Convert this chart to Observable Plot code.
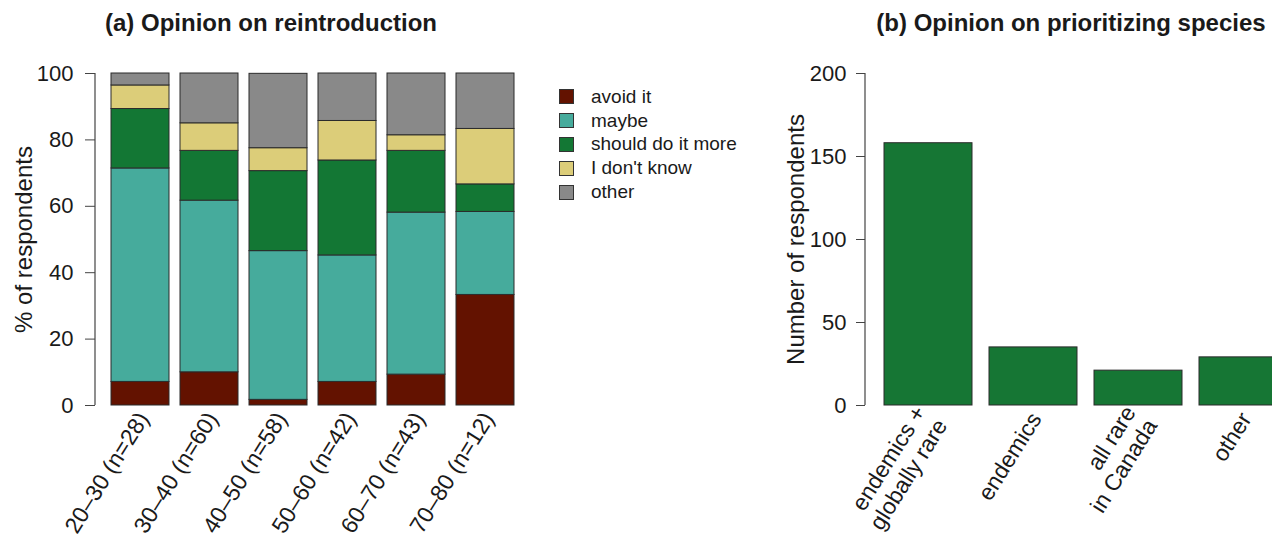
<!DOCTYPE html>
<html><head><meta charset="utf-8">
<script src="https://cdn.jsdelivr.net/npm/d3@7"></script>
<script src="https://cdn.jsdelivr.net/npm/@observablehq/plot@0.6"></script>
<style>
body{margin:0;background:#fff;}
#root{position:relative;width:1272px;height:542px;overflow:hidden;font-family:"Liberation Sans",Arial,sans-serif;color:#1a1a1a;background:#fff;}
.title{position:absolute;top:9px;font-weight:bold;font-size:24px;line-height:28px;white-space:nowrap;transform:translateX(-50%);z-index:2;}
#left,#right{position:absolute;top:0;}
#left{left:0;} #right{left:760px;width:556px;}
#root svg{max-width:none !important;display:block;}
#legend{position:absolute;left:559px;top:85px;font-size:19px;z-index:2;}
.li{display:flex;align-items:center;height:23.8px;}
.sw{width:13px;height:13px;border:1px solid #333;margin-right:17px;}
svg text{fill:#1a1a1a;}
</style></head>
<body><div id="root">
<div id="left"></div><div id="right"></div><div id="legend"></div>
<div class="title" style="left:271px">(a) Opinion on reintroduction</div>
<div class="title" style="left:1071px">(b) Opinion on prioritizing species</div>
</div>
<script>
// ---- data ----
const ageGroups = ["20–30 (n=28)", "30–40 (n=60)", "40–50 (n=58)", "50–60 (n=42)", "60–70 (n=43)", "70–80 (n=12)"];
const opinions = ["avoid it", "maybe", "should do it more", "I don't know", "other"];
const avoidIt    = [7.1, 10.0, 1.7, 7.1, 9.3, 33.3];
const maybe      = [64.3, 51.7, 44.8, 38.1, 48.8, 25.0];
const shouldMore = [17.9, 15.0, 24.1, 28.6, 18.6, 8.3];
const dontKnow   = [7.1, 8.3, 6.9, 11.9, 4.7, 16.7];
const otherOp    = [3.6, 15.0, 22.4, 14.3, 18.6, 16.7];
const opinionColors = ["#631200", "#46ab9c", "#137734", "#dccd79", "#898989"];
const pctTicks = [0, 20, 40, 60, 80, 100];

const speciesCats = ["endemics +\nglobally rare", "endemics", "all rare\nin Canada", "other"];
const speciesCounts = [158, 35, 21, 29];
const countTicks = [0, 50, 100, 150, 200];
const speciesColor = "#167634";

// ---- build tidy table ----
const series = [avoidIt, maybe, shouldMore, dontKnow, otherOp];
const tidy = [];
ageGroups.forEach((g, i) => opinions.forEach((o, j) => tidy.push({group: g, opinion: o, pct: series[j][i]})));
const species = speciesCats.map((c, i) => ({cat: c, n: speciesCounts[i]}));

const FS = 22, LFS = 24, XFS = 23, ROT = -58;
const axisLine = (domain) => (index, scales, values, dims) => {
  const g = document.createElementNS("http://www.w3.org/2000/svg", "line");
  g.setAttribute("x1", dims.marginLeft); g.setAttribute("x2", dims.marginLeft);
  g.setAttribute("y1", scales.y(domain[0])); g.setAttribute("y2", scales.y(domain[1]));
  g.setAttribute("stroke", "#444"); g.setAttribute("stroke-width", 1.2);
  return g;
};
const fontStyle = {fontFamily: "'Liberation Sans', Arial, sans-serif", fontSize: FS + "px", background: "transparent", overflow: "visible"};

const left = Plot.plot({
  width: 540, height: 542,
  marginTop: 73, marginBottom: 137, marginLeft: 95, marginRight: 9,
  style: fontStyle,
  x: {domain: ageGroups, paddingInner: 0.155, paddingOuter: 0.23, axis: null},
  y: {domain: [0, 100], axis: null},
  color: {domain: opinions, range: opinionColors},
  marks: [
    Plot.barY(tidy, {x: "group", y: "pct", fill: "opinion", stroke: "#2b2b2b", strokeWidth: 1, order: null}),
    Plot.axisY({ticks: pctTicks, tickSize: 10, tickPadding: 12, fontSize: FS, label: null, stroke: "#444"}),
    axisLine([0, 100]),
    Plot.text(["% of respondents"], {frameAnchor: "left", textAnchor: "middle", dx: -71, rotate: -90, text: d => d, fontSize: LFS}),
    Plot.text(ageGroups, {x: d => d, frameAnchor: "bottom", text: d => d, rotate: ROT, textAnchor: "end", lineAnchor: "middle", dy: 9, dx: 3, fontSize: XFS})
  ]
});
document.getElementById("left").appendChild(left);

const right = Plot.plot({
  width: 556, height: 542,
  marginTop: 73, marginBottom: 137, marginLeft: 105, marginRight: 10,
  style: fontStyle,
  x: {domain: speciesCats, paddingInner: 0.166, paddingOuter: 0.18, axis: null},
  y: {domain: [0, 200], axis: null},
  marks: [
    Plot.barY(species, {x: "cat", y: "n", fill: speciesColor, stroke: "#2b2b2b", strokeWidth: 1}),
    Plot.axisY({ticks: countTicks, tickSize: 9, tickPadding: 10, fontSize: FS, label: null, stroke: "#444"}),
    axisLine([0, 200]),
    Plot.text(["Number of respondents"], {frameAnchor: "left", textAnchor: "middle", dx: -69, rotate: -90, text: d => d, fontSize: LFS}),
    Plot.text(speciesCats, {x: d => d, frameAnchor: "bottom", text: d => d, rotate: ROT, textAnchor: "end", lineAnchor: "middle", dy: 9, dx: 2, fontSize: XFS, lineHeight: 1.1})
  ]
});
document.getElementById("right").appendChild(right);

const legend = document.getElementById("legend");
opinions.forEach((o, i) => {
  const row = document.createElement("div"); row.className = "li";
  const sw = document.createElement("div"); sw.className = "sw"; sw.style.background = opinionColors[i];
  const t = document.createElement("span"); t.textContent = o;
  row.appendChild(sw); row.appendChild(t); legend.appendChild(row);
});
</script>
</body></html>
